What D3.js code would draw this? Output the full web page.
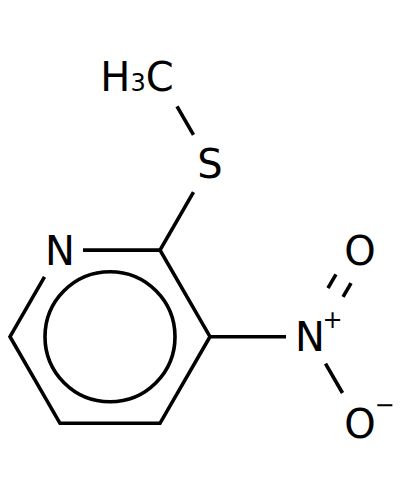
<!DOCTYPE html>
<html>
<head>
<meta charset="utf-8">
<script src="https://cdn.jsdelivr.net/npm/d3@7"></script>
<style>
  html, body { margin: 0; padding: 0; background: #fff; }
  svg { display: block; }
  text { font-family: "DejaVu Sans", sans-serif; fill: #000; }
</style>
</head>
<body>
<svg id="chart"></svg>
<script>
// atoms, in bond lengths
const atomNames = ['N1', 'C2', 'C3', 'C4', 'C5', 'C6', 'S', 'CH3', 'N2', 'O1', 'O2'];
const atomX = [0.5, 1.5, 2, 1.5, 0.5, 0, 2, 1.5, 3, 3.5, 3.5];
const atomY = [0.866, 0.866, 1.732, 2.598, 2.598, 1.732, 0, -0.866, 1.732, 0.866, 2.598];

// the ring outline, walked from N round to N, hidden a bit at both N ends
const ringAtoms = ['N1', 'C2', 'C3', 'C4', 'C5', 'C6', 'N1'];
const ringTrimStart = 0.23;
const ringTrimEnd = 0.31;

// other bonds: from, to, how much of the bond is hidden at each end
const bondFrom = ['C2', 'S', 'C3', 'N2'];
const bondTo = ['S', 'CH3', 'N2', 'O2'];
const trimFrom = [0, 0.33, 0, 0.31];
const trimTo = [0.33, 0.34, 0.24, 0.35];

// the N=O double bond
const doubleFrom = 'N2';
const doubleTo = 'O1';
const doubleTrimFrom = 0.51;
const doubleTrimTo = 0.33;
const doubleOffset = 0.087;

// aromatic ring circle
const ringCenter = [1, 1.732];
const ringRadius = 0.65;

const labelAtoms = ['N1', 'S', 'N2', 'O1', 'O2'];
const labelTexts = ['N', 'S', 'N', 'O', 'O'];
const chargeAtoms = ['N2', 'O2'];
const chargeTexts = ['+', '\u2212'];
const chargeDx = [22.5, 24.5];
const chargeDy = [-8.5, -10.5];

const width = 400;
const height = 500;
const strokeW = 3.6;
const x = d3.scaleLinear().domain([0, 1]).range([10, 110]);
const y = d3.scaleLinear().domain([0, 1]).range([163.5, 263.5]);
const fontSize = x(0.4) - x(0);

const svg = d3.select('svg#chart').attr('width', width).attr('height', height);

const pos = {};
atomNames.forEach((n, i) => { pos[n] = [x(atomX[i]), y(atomY[i])]; });

const along = (a, b, t) => [a[0] + (b[0] - a[0]) * t, a[1] + (b[1] - a[1]) * t];

function bondLine(a, b, t0, t1, off) {
  const len = Math.hypot(b[0] - a[0], b[1] - a[1]);
  const nx = -(b[1] - a[1]) / len * off;
  const ny = (b[0] - a[0]) / len * off;
  const p = along(a, b, t0);
  const q = along(a, b, 1 - t1);
  return { x1: p[0] + nx, y1: p[1] + ny, x2: q[0] + nx, y2: q[1] + ny };
}

// ring outline as one path so the corners get proper joins
const ringPts = ringAtoms.map(n => pos[n]);
ringPts[0] = along(pos.N1, pos.C2, ringTrimStart);
ringPts[ringPts.length - 1] = along(pos.N1, pos.C6, ringTrimEnd);
svg.append('path')
  .attr('d', d3.line()(ringPts))
  .attr('fill', 'none')
  .attr('stroke', '#000')
  .attr('stroke-width', strokeW)
  .attr('stroke-linejoin', 'miter');

const lines = bondFrom.map((f, i) => bondLine(pos[f], pos[bondTo[i]], trimFrom[i], trimTo[i], 0));
const pxOffset = x(doubleOffset) - x(0);
[-pxOffset, pxOffset].forEach(o => {
  lines.push(bondLine(pos[doubleFrom], pos[doubleTo], doubleTrimFrom, doubleTrimTo, o));
});

svg.append('g').selectAll('line').data(lines)
  .enter().append('line')
  .attr('x1', d => d.x1).attr('y1', d => d.y1)
  .attr('x2', d => d.x2).attr('y2', d => d.y2)
  .attr('stroke', '#000')
  .attr('stroke-width', strokeW)
  .attr('stroke-linecap', 'butt');

svg.append('circle')
  .attr('cx', x(ringCenter[0]))
  .attr('cy', y(ringCenter[1]))
  .attr('r', x(ringRadius) - x(0))
  .attr('fill', 'none')
  .attr('stroke', '#000')
  .attr('stroke-width', strokeW);

// atom labels
svg.append('g').selectAll('text').data(labelAtoms)
  .enter().append('text')
  .attr('x', d => pos[d][0])
  .attr('y', d => pos[d][1] + 14.5)
  .attr('text-anchor', 'middle')
  .attr('font-size', fontSize)
  .text((d, i) => labelTexts[i]);

// charges sit up and to the right of the atom
svg.append('g').selectAll('text').data(chargeAtoms)
  .enter().append('text')
  .attr('x', (d, i) => pos[d][0] + chargeDx[i])
  .attr('y', (d, i) => pos[d][1] + chargeDy[i])
  .attr('text-anchor', 'middle')
  .attr('font-size', 24)
  .text((d, i) => chargeTexts[i]);

// methyl label with subscript
const methyl = svg.append('text')
  .attr('x', pos.CH3[0] - 23)
  .attr('y', pos.CH3[1] + 14.5)
  .attr('text-anchor', 'middle')
  .attr('font-size', fontSize);
methyl.append('tspan').text('H');
methyl.append('tspan').attr('font-size', 24).text('3');
methyl.append('tspan').text('C');
</script>
</body>
</html>
